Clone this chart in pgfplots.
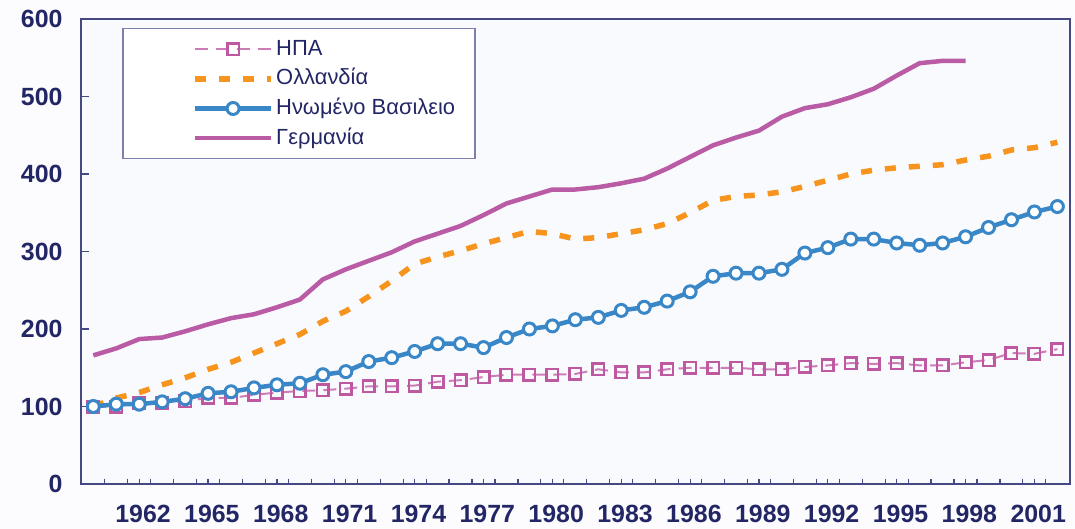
\documentclass[border=0pt]{standalone}
\usepackage{pgfplots}
\pgfplotsset{compat=1.18}
\usepackage{pgfplotstable}
\usepackage{fontspec}
\setmainfont{Liberation Sans}

\definecolor{navy}{RGB}{35,38,100}
\definecolor{framec}{RGB}{70,72,130}
\definecolor{usa}{RGB}{190,88,160}
\definecolor{usaline}{RGB}{205,125,182}
\definecolor{nl}{RGB}{247,148,30}
\definecolor{uk}{RGB}{58,135,200}
\definecolor{de}{RGB}{185,92,165}
\definecolor{plotbg}{RGB}{249,250,254}
\definecolor{pagebg}{RGB}{252,252,255}
\definecolor{legframe}{RGB}{125,128,170}

\pgfplotstableread{
year usa nl uk de
1960 100 100 100 166
1961 100 111 103 175
1962 105 118 103 187
1963 105 128 106 189
1964 107 137 110 197
1965 111 148 117 206
1966 111 157 119 214
1967 115 169 124 219
1968 118 181 128 228
1969 120 193 130 238
1970 121 210 141 264
1971 123 223 145 277
1972 126 242 158 288
1973 126 262 163 299
1974 127 284 171 313
1975 132 293 181 323
1976 134 301 181 333
1977 138 310 176 347
1978 141 318 189 362
1979 141 326 200 371
1980 141 323 204 380
1981 142 316 212 380
1982 148 318 215 383
1983 144 323 224 388
1984 144 328 228 394
1985 148 336 236 407
1986 150 350 248 422
1987 150 366 268 437
1988 150 371 272 447
1989 148 373 272 456
1990 148 377 277 474
1991 151 384 298 485
1992 153 392 305 490
1993 156 400 316 499
1994 155 405 316 510
1995 156 408 311 527
1996 153 410 308 543
1997 153 412 311 546
1998 157 418 319 546
1999 160 423 331 nan
2000 169 431 341 nan
2001 168 434 351 nan
2002 174 441 358 nan
}\data

\pgfplotsset{mylegend/.style={legend image code/.code={%
  \path[draw=none,fill=none] (-52bp,0bp) -- (0bp,0bp);
  \draw[mark repeat=2,mark phase=2,##1] plot coordinates {(0bp,0bp) (38.35bp,0bp) (76.7bp,0bp)};}}}

\begin{document}
\begin{tikzpicture}
\path[use as bounding box, fill=pagebg] (0,0) rectangle (1075bp,529bp);
\begin{axis}[
  at={(80.7bp,45bp)}, anchor=south west,
  scale only axis, width=989.3bp, height=465bp,
  xmin=1959.45, xmax=2002.55, ymin=0, ymax=600,
  axis background/.style={fill=plotbg},
  axis line style={draw=framec, line width=2bp},
  xtick={1960.5,1961.5,...,2001.5},
  xticklabels={},
  extra x ticks={1962,1965,1968,1971,1974,1977,1980,1983,1986,1989,1992,1995,1998,2001},
  extra x tick labels={1962,1965,1968,1971,1974,1977,1980,1983,1986,1989,1992,1995,1998,2001},
  extra x tick style={major tick length=0pt},
  ytick={0,100,...,600},
  /pgf/number format/assume math mode=true,
  xtick pos=lower, ytick pos=left,
  tick align=inside,
  xtick style={/pgfplots/major tick length=5bp, draw=framec, line width=1.2bp},
  ytick style={/pgfplots/major tick length=8bp, draw=framec, line width=1.5bp},
  xticklabel style={font=\fontsize{25}{30}\selectfont\bfseries, text=navy, anchor=base, inner sep=0pt, yshift=-38.7bp, xshift=3.8bp},
  yticklabel style={font=\fontsize{25}{30}\selectfont\bfseries, text=navy, anchor=east, inner sep=0pt, xshift=-18bp},
  legend style={at={(0.04175,0.98065)}, anchor=north west, draw=legframe, line width=1.5bp, fill=white,
    inner xsep=20bp, inner ysep=5.5bp, font=\fontsize{22}{27}\selectfont, text=navy,
    cells={anchor=west}, row sep=0pt,
    nodes={inner sep=0pt, text height=21bp, text depth=8.7bp},
    /tikz/every odd column/.append style={column sep=2bp}},
  legend cell align=left,
]
\addplot[mylegend, color=usaline, line width=2bp, dash pattern=on 13bp off 8bp,
  mark=square, mark size=5.75bp, mark options={solid, draw=usa, fill=plotbg, line width=2.5bp}]
  table[x=year, y=usa] {\data};
\addlegendentry{ΗΠΑ}
\addplot[mylegend, color=nl, line width=5.5bp, dash pattern=on 11bp off 13bp, no marks]
  table[x=year, y=nl] {\data};
\addlegendentry{Ολλανδία}
\addplot[mylegend, color=uk, line width=4.5bp, solid,
  mark=*, mark size=6bp, mark options={solid, draw=uk, fill=white, line width=3bp}]
  table[x=year, y=uk] {\data};
\addlegendentry{Ηνωμένο Βασιλειο}
\addplot[mylegend, color=de, line width=4.5bp, solid, no marks]
  table[x=year, y=de] {\data};
\addlegendentry{Γερμανία}
\end{axis}
\end{tikzpicture}
\end{document}
